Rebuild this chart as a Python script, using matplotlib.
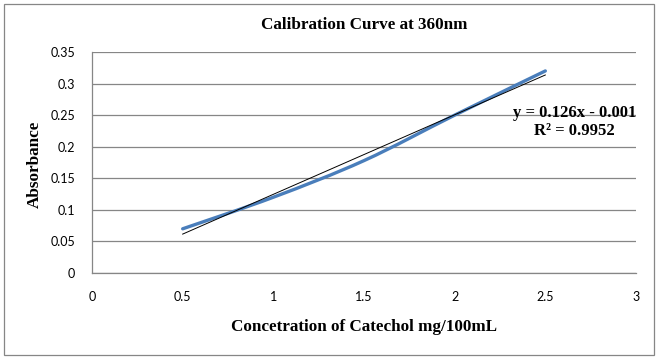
import matplotlib
matplotlib.use("Agg")
import matplotlib.pyplot as plt
import numpy as np
from matplotlib.patches import Rectangle, PathPatch
from matplotlib.path import Path

# concentration (mg/100mL) and absorbance
conc = [0.5, 1.0, 1.5, 2.0, 2.5]
absorb = [0.070, 0.120, 0.178, 0.250, 0.320]

x_ticks = [0, 0.5, 1, 1.5, 2, 2.5, 3]
x_tick_labels = ["0", "0.5", "1", "1.5", "2", "2.5", "3"]
y_ticks = [0, 0.05, 0.1, 0.15, 0.2, 0.25, 0.3, 0.35]
y_tick_labels = ["0", "0.05", "0.1", "0.15", "0.2", "0.25", "0.3", "0.35"]

equation_text = "y = 0.126x - 0.001\nR² = 0.9952"

SERIF = "Liberation Serif"
TICK_FONT = "Lato"
GRID_GREY = "#868686"
LINE_BLUE = "#4a7ebb"


def smooth_path(xs, ys, tension=1 / 6):
    # Excel-style smoothed line: catmull-rom segments as cubic beziers
    pts = np.column_stack([xs, ys])
    verts = [tuple(pts[0])]
    codes = [Path.MOVETO]
    n = len(pts)
    for i in range(n - 1):
        p0 = pts[i - 1] if i > 0 else pts[i]
        p1 = pts[i]
        p2 = pts[i + 1]
        p3 = pts[i + 2] if i + 2 < n else pts[i + 1]
        c1 = p1 + (p2 - p0) * tension
        c2 = p2 - (p3 - p1) * tension
        verts += [tuple(c1), tuple(c2), tuple(p2)]
        codes += [Path.CURVE4] * 3
    return Path(verts, codes)


def main():
    fig = plt.figure(figsize=(6.59, 3.61), dpi=100)
    fig.patches.append(Rectangle((4 / 659, 6 / 361), 650 / 659, 351 / 361,
                                 transform=fig.transFigure, fill=False,
                                 edgecolor=GRID_GREY, linewidth=0.9))

    ax = fig.add_axes([92 / 659, 1 - 273 / 361, 544 / 659, 221 / 361])
    ax.set_xlim(0, 3)
    ax.set_ylim(0, 0.35)

    ax.set_yticks(y_ticks)
    ax.set_yticklabels(y_tick_labels, fontfamily=TICK_FONT, fontsize=9)
    ax.set_xticks(x_ticks)
    ax.set_xticklabels(x_tick_labels, fontfamily=TICK_FONT, fontsize=9)
    ax.tick_params(axis="y", length=0, pad=12)
    ax.tick_params(axis="x", length=0, pad=13)

    ax.grid(axis="y", color=GRID_GREY, linewidth=0.9)
    ax.set_axisbelow(True)
    for side in ["top", "right"]:
        ax.spines[side].set_visible(False)
    for side in ["left", "bottom"]:
        ax.spines[side].set_color(GRID_GREY)
        ax.spines[side].set_linewidth(0.9)

    # data series, smoothed
    ax.add_patch(PathPatch(smooth_path(conc, absorb), facecolor="none",
                           edgecolor=LINE_BLUE, linewidth=2.4,
                           capstyle="round", zorder=3))

    # linear trendline
    slope, intercept = np.polyfit(conc, absorb, 1)
    xt = np.array([conc[0], conc[-1]])
    ax.plot(xt, slope * xt + intercept, color="black", linewidth=0.7, zorder=4)

    ax.text(2.66, 0.239, equation_text, ha="center", va="center",
            fontfamily=SERIF, fontweight="bold", fontsize=12,
            linespacing=1.1, zorder=5)

    fig.text(364 / 659, 1 - 25 / 361, "Calibration Curve at 360nm",
             ha="center", va="center", fontfamily=SERIF, fontweight="bold",
             fontsize=12.3)
    fig.text(364 / 659, 1 - 327 / 361, "Concetration of Catechol mg/100mL",
             ha="center", va="center", fontfamily=SERIF, fontweight="bold",
             fontsize=12.3)
    fig.text(35 / 659, 1 - 164 / 361, "Absorbance", rotation=90,
             ha="center", va="center", fontfamily=SERIF, fontweight="bold",
             fontsize=12.3)

    fig.savefig("out.png", dpi=100)
    plt.close(fig)


if __name__ == "__main__":
    main()
